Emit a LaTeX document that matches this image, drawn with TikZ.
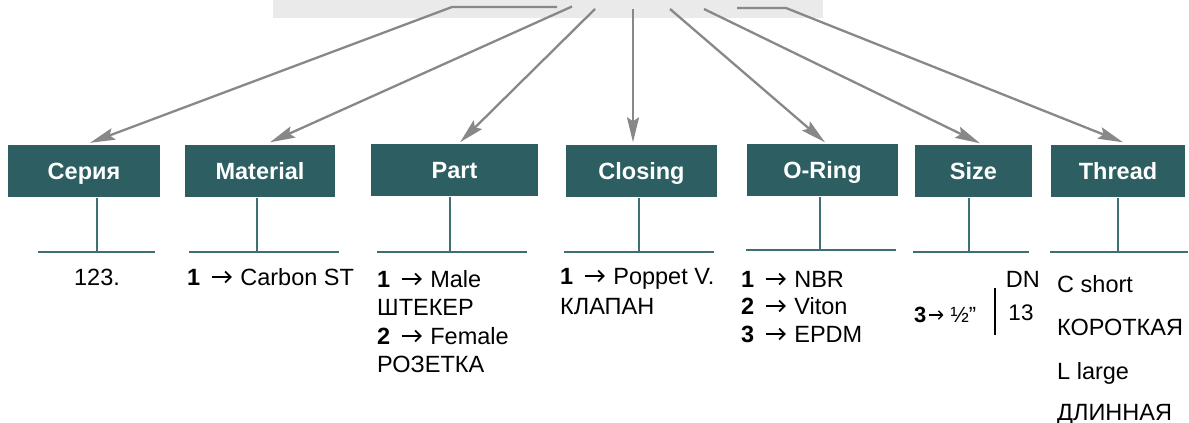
\documentclass[tikz,border=0pt]{standalone}
\usepackage{fontspec}
\setmainfont{Liberation Sans}
\usetikzlibrary{arrows.meta,calc}
\definecolor{boxc}{HTML}{2C5E62}
\definecolor{stemc}{HTML}{3D6F73}
\definecolor{arrc}{HTML}{888888}
\definecolor{topg}{HTML}{EAEAEA}
\newcommand\chevA{\tikz[baseline=0pt]{\useasboundingbox (0pt,0pt) rectangle (27pt,12pt);
  \draw[line width=1.7pt,-{Straight Barb[length=5.5pt,width=11pt]}] (5pt,8pt) -- (25pt,8pt);}}
\newcommand\chevB{\tikz[baseline=0pt]{\useasboundingbox (0pt,0pt) rectangle (18pt,10pt);
  \draw[line width=1.4pt,-{Straight Barb[length=4pt,width=8.5pt]}] (3pt,7pt) -- (17pt,7pt);}}
\tikzset{
  box/.style={fill=boxc, text=white, font=\fontsize{23.5}{28}\selectfont\bfseries,
    text height=17pt, text depth=0pt, inner sep=0pt, minimum height=52pt},
  arr/.style={draw=arrc, line width=2.3pt, line join=round,
    -{Stealth[length=25pt,width=12pt,inset=4pt]}},
  stem/.style={draw=stemc, line width=2pt},
  txt/.style={anchor=base west, inner sep=0pt, font=\fontsize{23.5}{28}\selectfont},
}
\begin{document}
\begin{tikzpicture}[x=1pt,y=-1pt]
\useasboundingbox (0,0) rectangle (1189,423);
% top grey box
\node[fill=topg, minimum width=550pt, minimum height=18pt, inner sep=0pt] (top) at (548,9) {};
% category boxes
\node[box, minimum width=152pt] (serie) at (84,171) {Серия};
\node[box, minimum width=150pt] (mat) at (260,170.5) {Material};
\node[box, minimum width=167pt] (part) at (454.5,169.5) {Part};
\node[box, minimum width=151pt] (clos) at (641.5,170.5) {Closing};
\node[box, minimum width=151pt] (oring) at (822.5,169.5) {O-Ring};
\node[box, minimum width=117pt] (size) at (973.5,170.5) {Size};
\node[box, minimum width=134pt] (thr) at (1118,170.5) {Thread};
% start points of arrows
\coordinate (s1) at (557,7);  \coordinate (b1) at (452,7);
\coordinate (s2) at (572,6.5);
\coordinate (s3) at (595,9);
\coordinate (s4) at (633,9);
\coordinate (s5) at (670,9);
\coordinate (s6) at (704,9);
\coordinate (s7) at (737,8);  \coordinate (b7) at (786,8);
% arrows
\draw[arr] (s1) -- (b1) -- ($(serie.north)+(6,-2)$);
\draw[arr] (s2) -- ($(mat.north)+(10,-2)$);
\draw[arr] (s3) -- ($(part.north)+(5.5,-1)$);
\draw[arr] (s4) -- ($(clos.north)+(-8.5,-2)$);
\draw[arr] (s5) -- ($(oring.north)+(2.5,-1)$);
\draw[arr] (s6) -- ($(size.north)+(6.5,-1)$);
\draw[arr] (s7) -- (b7) -- ($(thr.north)+(5,-2)$);
% stems and rails
\draw[stem] ($(serie.south)+(13,1)$) -- ++(0,54);
\draw[stem] (38,252) -- (155,252);
\draw[stem] ($(mat.south)+(-3,1)$) -- ++(0,55);
\draw[stem] (189,252) -- (339,252);
\draw[stem] ($(part.south)+(-4.5,1)$) -- ++(0,56);
\draw[stem] (377,252) -- (527,252);
\draw[stem] ($(clos.south)+(-2.5,1)$) -- ++(0,55);
\draw[stem] (564,252) -- (714,252);
\draw[stem] ($(oring.south)+(-2.5,1)$) -- ++(0,54);
\draw[stem] (746,250) -- (896,250);
\draw[stem] ($(size.south)+(-4.5,1)$) -- ++(0,55);
\draw[stem] (913,252) -- (1029,252);
\draw[stem] ($(thr.south)+(0,1)$) -- ++(0,55);
\draw[stem] (1050,252) -- (1188,252);
% texts
\node[txt, anchor=base] (t1) at (97,285) {123.};
\node[txt] (t2) at (187,285) {\textbf{1} \chevA{} Carbon ST};
\node[txt] (t3a) at (377,287) {\textbf{1} \chevA{} Male};
\node[txt] (t3b) at (377,315) {ШТЕКЕР};
\node[txt] (t3c) at (377,344) {\textbf{2} \chevA{} Female};
\node[txt] (t3d) at (377,372) {РОЗЕТКА};
\node[txt] (t4a) at (560,284) {\textbf{1} \chevA{} Poppet V.};
\node[txt] (t4b) at (560,314) {КЛАПАН};
\node[txt] (t5a) at (741,287) {\textbf{1} \chevA{} NBR};
\node[txt] (t5b) at (741,314) {\textbf{2} \chevA{} Viton};
\node[txt] (t5c) at (741,342) {\textbf{3} \chevA{} EPDM};
\node[txt, anchor=base east] (t6a) at (1040,287) {DN};
\node[txt, font=\fontsize{22}{26}\selectfont] (t6b) at (914,322) {\textbf{3}\chevB{} ½”};
\node[txt, anchor=base, font=\fontsize{22.5}{26}\selectfont] (t6c) at (1021,320) {13};
\draw[line width=2.5pt, black] (995,288) -- (995,335);
\node[txt] (t7a) at (1057,292) {C short};
\node[txt] (t7b) at (1057,335) {КОРОТКАЯ};
\node[txt] (t7c) at (1057,379) {L large};
\node[txt] (t7d) at (1057,420) {ДЛИННАЯ};
\end{tikzpicture}
\end{document}
